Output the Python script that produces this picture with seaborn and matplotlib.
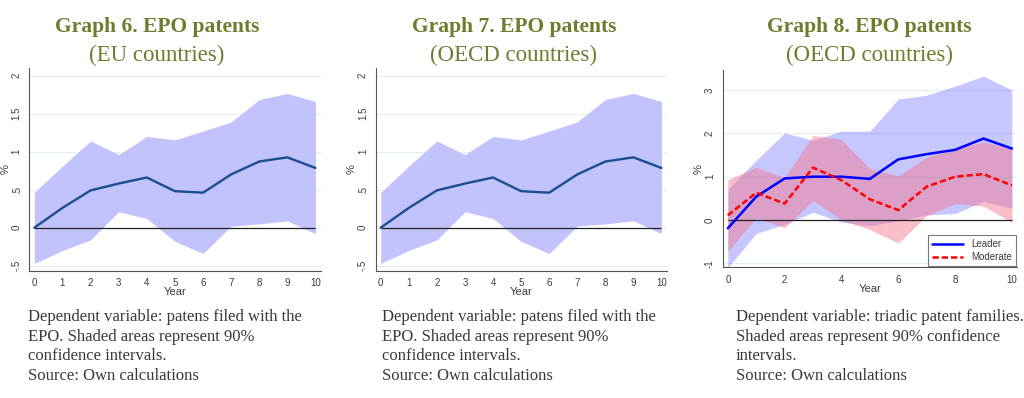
import numpy as np
import pandas as pd
import matplotlib
matplotlib.use("Agg")
import matplotlib.pyplot as plt
import seaborn as sns

# ---------------- data ----------------
years = [0, 1, 2, 3, 4, 5, 6, 7, 8, 9, 10]

# Graph 6 / Graph 7 (same estimates in the reference)
epo_mean = [0.0, 0.26, 0.49, 0.58, 0.66, 0.48, 0.46, 0.70, 0.87, 0.925, 0.785]
epo_upper = [0.465, 0.81, 1.14, 0.96, 1.20, 1.155, 1.27, 1.39, 1.685, 1.765, 1.66]
epo_lower = [-0.47, -0.30, -0.16, 0.21, 0.12, -0.18, -0.34, 0.02, 0.05, 0.09, -0.08]

# Graph 8
leader_mean = [-0.19, 0.54, 0.96, 1.0, 1.0, 0.95, 1.40, 1.52, 1.62, 1.88, 1.65]
leader_upper = [0.71, 1.38, 2.01, 1.84, 2.05, 2.05, 2.79, 2.88, 3.09, 3.32, 3.0]
leader_lower = [-1.1, -0.31, -0.10, 0.18, -0.05, -0.13, -0.02, 0.12, 0.15, 0.43, 0.27]
moderate_mean = [0.11, 0.63, 0.38, 1.21, 0.92, 0.48, 0.23, 0.77, 1.0, 1.06, 0.80]
moderate_upper = [0.93, 1.22, 0.98, 1.95, 1.86, 1.18, 1.02, 1.45, 1.65, 1.80, 1.66]
moderate_lower = [-0.72, 0.05, -0.18, 0.45, 0.0, -0.22, -0.53, 0.10, 0.38, 0.32, -0.05]

series_names = ["Leader", "Moderate"]

yticks_a = [-0.5, 0, 0.5, 1, 1.5, 2]
yticklabels_a = ["-.5", "0", ".5", "1", "1.5", "2"]
xticks_a = years
yticks_b = [-1, 0, 1, 2, 3]
yticklabels_b = ["-1", "0", "1", "2", "3"]
xticks_b = [0, 2, 4, 6, 8, 10]

titles = ["Graph 6. EPO patents", "Graph 7. EPO patents", "Graph 8. EPO patents"]
subtitles = ["(EU countries)", "(OECD countries)", "(OECD countries)"]
captions = [
    "Dependent variable: patens filed with the\nEPO. Shaded areas represent 90%\nconfidence intervals.\nSource: Own calculations",
    "Dependent variable: patens filed with the\nEPO. Shaded areas represent 90%\nconfidence intervals.\nSource: Own calculations",
    "Dependent variable: triadic patent families.\nShaded areas represent 90% confidence\nintervals.\nSource: Own calculations",
]

# ---------------- style ----------------
sns.set_style("white")
plt.rcParams["font.family"] = ["Liberation Sans", "DejaVu Sans"]

W, H = 1024, 398
fig = plt.figure(figsize=(W / 100, H / 100), dpi=100)

def px_axes(left, bottom_px, right, top_px):
    return fig.add_axes([left / W, (H - bottom_px) / H, (right - left) / W, (bottom_px - top_px) / H])

ax1 = px_axes(29.3, 270.7, 320.5, 68)
ax2 = px_axes(375.7, 270.7, 666.5, 68)
ax3 = px_axes(722.7, 267.3, 1017, 70.5)

TICKCOL = "#3a3a3a"
GRIDCOL = "#e4eef0"

def style_axes(ax, yticks, ylabels, xticks, ylim):
    ax.set_xlim(-0.18, 10.18)
    ax.set_ylim(*ylim)
    ax.set_yticks(yticks)
    ax.set_yticklabels(ylabels, rotation=90, va="center")
    ax.set_xticks(xticks)
    ax.set_xticklabels([str(x) for x in xticks])
    for s in ["top", "right"]:
        ax.spines[s].set_visible(False)
    for s in ["left", "bottom"]:
        ax.spines[s].set_color("#555555")
        ax.spines[s].set_linewidth(0.8)
    ax.tick_params(axis="both", direction="out", length=3.5, width=0.7, color="#555555",
                   labelsize=7, labelcolor=TICKCOL, pad=2)
    ax.yaxis.grid(True, color=GRIDCOL, linewidth=0.8)
    ax.set_axisbelow(True)
    ax.set_xlabel("Year", fontsize=8, color=TICKCOL, labelpad=-1)
    ax.set_ylabel("%", fontsize=8, color=TICKCOL, labelpad=1)
    ax.hlines(0, years[0], years[-1], color="#222222", linewidth=0.9, zorder=2)

# Panels 6 and 7
df_epo = pd.DataFrame({"Year": years, "mean": epo_mean, "lo": epo_lower, "hi": epo_upper})
for ax in (ax1, ax2):
    ax.fill_between(df_epo["Year"], df_epo["lo"], df_epo["hi"], color="#c2c2fc", linewidth=0, zorder=1)
    sns.lineplot(data=df_epo, x="Year", y="mean", ax=ax, color="#1b4d91", linewidth=1.7, zorder=3)
    style_axes(ax, yticks_a, yticklabels_a, xticks_a, (-0.566, 2.1))

# Panel 8
df3 = pd.DataFrame({
    "Year": years * 2,
    "value": leader_mean + moderate_mean,
    "group": [series_names[0]] * len(years) + [series_names[1]] * len(years),
})
ax3.fill_between(years, leader_lower, leader_upper, color="#0000ff", alpha=0.22, linewidth=0, zorder=1)
ax3.fill_between(years, moderate_lower, moderate_upper, color="#f57085", alpha=0.45, linewidth=0, zorder=1)
sns.lineplot(data=df3, x="Year", y="value", hue="group", style="group",
             palette={"Leader": "#0000ff", "Moderate": "#ff0000"},
             dashes={"Leader": "", "Moderate": (2.5, 1.2)},
             linewidth=1.8, ax=ax3, zorder=3)
style_axes(ax3, yticks_b, yticklabels_b, xticks_b, (-1.09, 3.45))
leg = ax3.legend(loc="lower right", fontsize=7, frameon=True, fancybox=False,
                 edgecolor="#555555", borderpad=0.4, handlelength=3.2, labelspacing=0.3,
                 borderaxespad=0.15)
leg.get_frame().set_linewidth(0.8)
for t in leg.get_texts():
    t.set_color(TICKCOL)

# Titles
TITLECOL = "#6b7d2e"
title_x = [157, 514, 869.5]
for tx, t, st in zip(title_x, titles, subtitles):
    fig.text(tx / W, 1 - 27 / H, t, ha="center", va="center", fontsize=15.5,
             fontweight="bold", color=TITLECOL, family=["Liberation Serif", "DejaVu Serif"])
    fig.text(tx / W, 1 - 55 / H, st, ha="center", va="center", fontsize=16.5,
             color=TITLECOL, family=["Liberation Serif", "DejaVu Serif"])

# Captions
cap_x = [28, 382, 736]
for cx, c in zip(cap_x, captions):
    fig.text(cx / W, 1 - 309 / H, c, ha="left", va="top", fontsize=12,
             color="#3a3a3a", linespacing=1.3, family=["Liberation Serif", "DejaVu Serif"])

fig.savefig("out.png", dpi=100)
